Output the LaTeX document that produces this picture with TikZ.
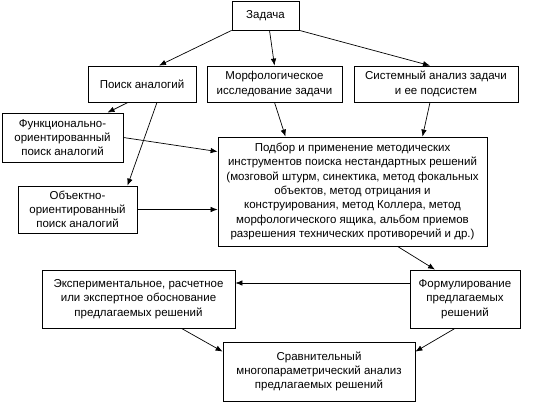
\documentclass[tikz,border=0pt]{standalone}
\usepackage{fontspec}
\setmainfont{Liberation Sans}
\usetikzlibrary{arrows.meta,positioning,calc}

\begin{document}
\begin{tikzpicture}[x=1pt,y=-1pt,
    box/.style={draw, line width=0.8pt, align=center, inner sep=2pt, font=\fontsize{11.5}{14.3}\selectfont},
    arr/.style={-{Latex[length=7pt,width=5.5pt]}, line width=0.7pt}
]
\useasboundingbox (0,0) rectangle (558,404);

\node[box, minimum width=67pt, minimum height=29pt] (task) at (265.5,15.5) {Задача};
\node[box, minimum width=108pt, minimum height=36pt] (analog) at (142,84) {Поиск аналогий};
\node[box, minimum width=135pt, minimum height=36pt] (morph) at (274.5,84) {Морфологическое\\исследование задачи};
\node[box, minimum width=164pt, minimum height=36pt] (system) at (436,84) {Системный анализ задачи\\и ее подсистем};
\node[box, minimum width=121pt, minimum height=49pt] (func) at (62.5,137.5) {Функционально-\\ориентированный\\поиск аналогий};
\node[box, minimum width=119pt, minimum height=47pt] (object) at (77.5,209.5) {Объектно-\\ориентированный\\поиск аналогий};
\node[box, minimum width=269pt, minimum height=109pt] (tools) at (352.5,191.5) {Подбор и применение методических\\инструментов поиска нестандартных решений\\(мозговой штурм, синектика, метод фокальных\\объектов, метод отрицания и\\конструирования, метод Коллера, метод\\морфологического ящика, альбом приемов\\разрешения технических противоречий и др.)};
\node[box, minimum width=193pt, minimum height=58pt] (proof) at (138.5,299) {Экспериментальное, расчетное\\или экспертное обоснование\\предлагаемых решений};
\node[box, minimum width=110pt, minimum height=58pt] (formul) at (465,299) {Формулирование\\предлагаемых\\решений};
\node[box, minimum width=192pt, minimum height=59pt] (compare) at (319,371.5) {Сравнительный\\многопараметрический анализ\\предлагаемых решений};

\draw[arr] (task.south west) -- ([xshift=17pt]analog.north);
\draw[arr] ([xshift=4pt]task.south) -- (morph.north);
\draw[arr] (task.south east) -- ([xshift=-6pt]system.north);
\draw[arr] ([xshift=-14pt]analog.south) -- ([xshift=45pt]func.north);
\draw[arr] ([xshift=15pt]analog.south) -- ([xshift=50pt]object.north);
\draw[arr] (morph.south) -- ([xshift=-67pt]tools.north);
\draw[arr] ([xshift=-6pt]system.south) -- ([xshift=70pt]tools.north);
\draw[arr] (func.east) -- ([yshift=-15pt]tools.north west);
\draw[arr] (object.east) -- (object.east -| tools.west);
\draw[arr] ([xshift=45pt]tools.south) -- ([xshift=-30pt]formul.north);
\draw[arr] ([yshift=16pt]formul.west) -- ([yshift=16pt]proof.east);
\draw[arr] ([xshift=43pt]proof.south) -- ([yshift=-10pt]compare.north west);
\draw[arr] ([xshift=-10pt]formul.south) -- ([yshift=-10pt]compare.north east);
\end{tikzpicture}
\end{document}
